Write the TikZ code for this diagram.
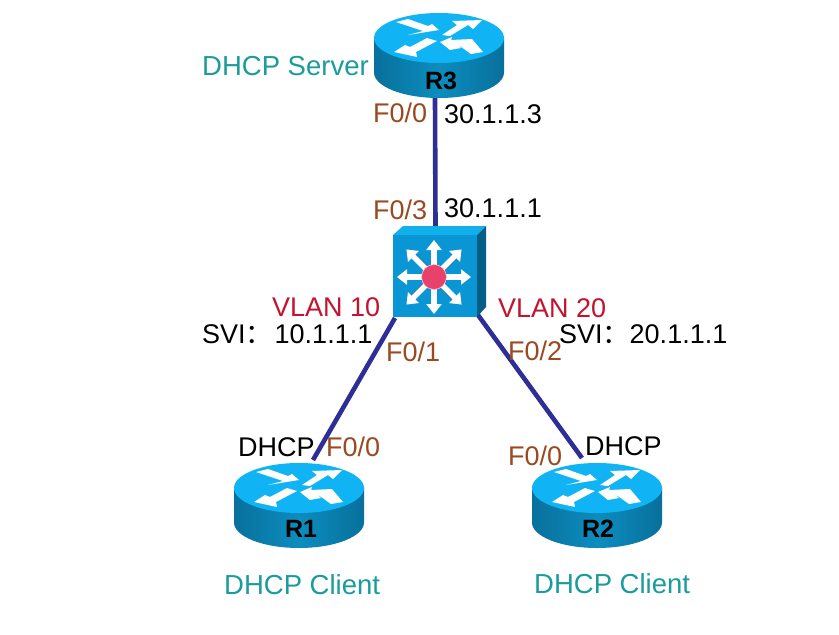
\documentclass[tikz,border=0pt]{standalone}
\usepackage{fontspec}
\setmainfont{Liberation Sans}
\newfontfamily\cjk{Noto Sans CJK SC}
\usetikzlibrary{arrows.meta}
\definecolor{linkblue}{HTML}{2E2F96}
\definecolor{tealtxt}{HTML}{1B9C9C}
\definecolor{porttxt}{HTML}{9A4A20}
\definecolor{vlantxt}{HTML}{C4122F}
\definecolor{topblue}{HTML}{10B4F4}
\definecolor{sidedark}{HTML}{08709C}
\definecolor{sidemid}{HTML}{0C8DBE}
\definecolor{swfront}{HTML}{0A96D4}
\definecolor{swtop}{HTML}{12B0EA}
\definecolor{swside}{HTML}{055E86}
\definecolor{hub}{HTML}{E8426A}
\tikzset{
  devicebox/.style={minimum width=130pt,minimum height=85pt,inner sep=0pt,outer sep=0pt},
  switchbox/.style={minimum width=93pt,minimum height=91pt,inner sep=0pt,outer sep=0pt},
  link/.style={draw=linkblue,line width=4.6pt},
  lbl/.style={anchor=base west,inner sep=0pt,font=\fontsize{27}{30}\selectfont},
  black lbl/.style={lbl,text=black},
  port/.style={lbl,text=porttxt},
  vlan/.style={lbl,text=vlantxt},
  role/.style={lbl,text=tealtxt,font=\fontsize{27.5}{30}\selectfont},
  rname/.style={anchor=base,inner sep=0pt,font=\fontsize{25}{28}\selectfont\bfseries,text=black},
  spoke/.style={draw=white,line width=5.5pt,-{Triangle[width=15pt,length=10pt]}},
  router/.pic={
    \path[left color=sidedark,right color=sidedark,middle color=sidemid]
      (-65,-17.5) -- (-65,17) .. controls (-65,31) and (-36,42.5) .. (0,42.5)
      .. controls (36,42.5) and (65,31) .. (65,17) -- (65,-17.5) -- cycle;
    \fill[topblue] (0,-17.5) ellipse[x radius=65pt,y radius=25pt];
    \begin{scope}[shift={(0,-17.5)}]
    \fill[white] (-43,-16) -- (-31,-19) -- (-11,-12) -- (-7,-14) -- (0,-8) -- (-31,-3) -- (-16,-7) -- cycle;
    \fill[white] (3,-3) -- (18,-13) -- (13,-17) -- (43,-18) -- (34,-9) -- (29,-13) -- (11,-2) -- cycle;
    \fill[white] (-12,0) -- (-29,9) -- (-34,7) -- (-45,14) -- (-22,19) -- (-23,14) -- (-2,3) -- cycle;
    \fill[white] (1,4) -- (13,-1) -- (12,2) -- (33,1) -- (44,14) -- (32,16) -- (18,6) -- (22,10) -- (11,12) -- cycle;
    \end{scope}
  }
}
\begin{document}
\begin{tikzpicture}[x=1pt,y=-1pt]
\useasboundingbox (0,0) rectangle (839,635);
\fill[white] (0,0) rectangle (839,635);
% device footprints
\node[devicebox] (r3) at (439,55.5) {};
\node[devicebox] (r1) at (299,505.5) {};
\node[devicebox] (r2) at (597,505.5) {};
\node[switchbox] (sw) at (439.5,271.5) {};
% links
\draw[link] ([shift={(-4,0)}]r3.south) -- ([shift={(-4,0)}]sw.north);
\draw[link] ([shift={(14,-3)}]r1.north) -- ([shift={(2,1)}]sw.south west);
\draw[link] ([shift={(-15,-5)}]r2.north) -- ([shift={(-8,-2)}]sw.south east);
% icons
\pic at (r3.center) {router};
\pic at (r1.center) {router};
\pic at (r2.center) {router};
\fill[swtop] (393,235) -- (403,226) -- (486,226) -- (477,235) -- cycle;
\fill[swside] (477,235) -- (486,226) -- (486,307) -- (477,317) -- cycle;
\fill[swfront] (393,235) rectangle (477,317);
\foreach \a in {45,135,225,315}{
  \draw[black!80,line width=1.2pt] (434,277) ++(\a+12:12) -- ++(\a:24);
}
\foreach \a in {0,45,...,315}{
  \draw[spoke] (434,277) -- ++(\a:{mod(\a,90)==0 ? 37 : 39});
}
\fill[hub] (434,277) circle[radius=12.5pt];
\draw[white!70!hub,line width=.6pt] (434,277) circle[radius=12.5pt];
% labels
\node[rname] (r3name) at (441,89) {R3};
\node[rname] (r1name) at (301,537) {R1};
\node[rname] (r2name) at (598,537) {R2};
\node[role] (t1) at (202,75) {DHCP Server};
\node[port] (t2) at (373,122) {F0/0};
\node[black lbl] (t3) at (444,123) {30.1.1.3};
\node[port] (t4) at (373,219) {F0/3};
\node[black lbl] (t5) at (444,217) {30.1.1.1};
\node[vlan] (t6) at (272,316) {VLAN 10};
\node[vlan] (t7) at (498,317) {VLAN 20};
\node[black lbl] (t8) at (202,343) {SVI{\cjk ：}\kern2pt 10.1.1.1};
\node[black lbl] (t9) at (559,343) {SVI{\cjk ：}20.1.1.1};
\node[port] (t10) at (386,361) {F0/1};
\node[port] (t11) at (508,360) {F0/2};
\node[black lbl] (t12) at (238,456) {DHCP};
\node[port] (t13) at (326,456) {F0/0};
\node[port] (t14) at (508,465) {F0/0};
\node[black lbl] (t15) at (585,455) {DHCP};
\node[role] (t16) at (224,594) {DHCP Client};
\node[role] (t17) at (534,593) {DHCP Client};
\end{tikzpicture}
\end{document}
